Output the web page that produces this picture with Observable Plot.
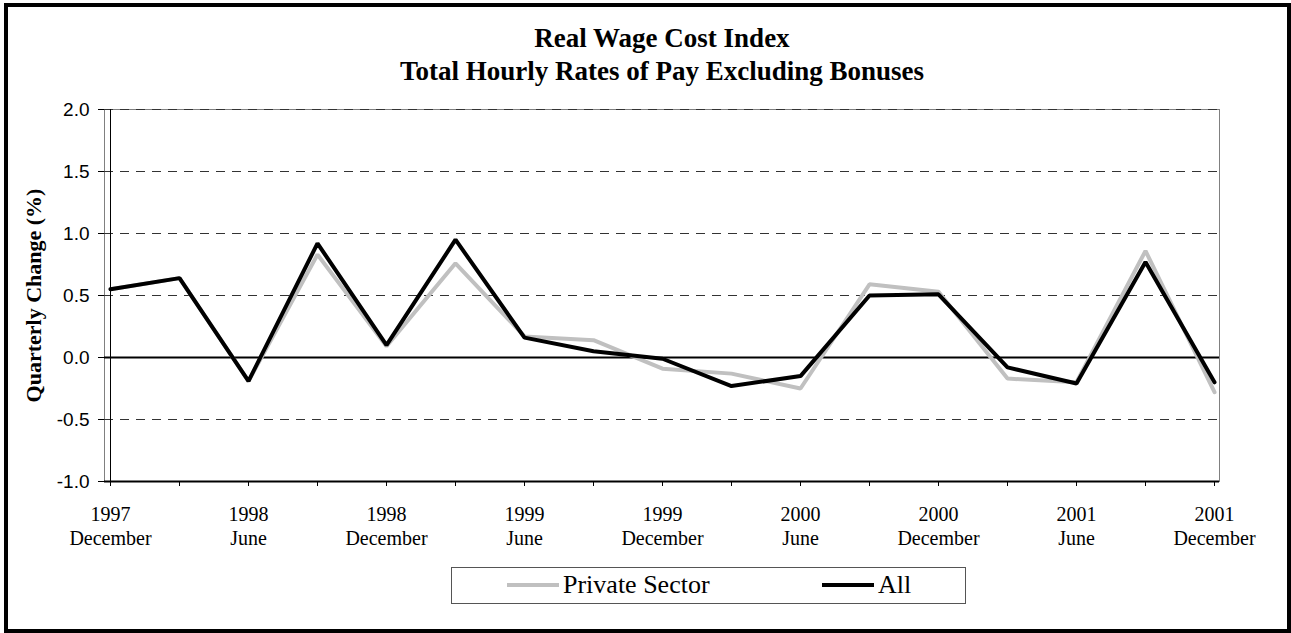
<!DOCTYPE html>
<html>
<head>
<meta charset="utf-8">
<script src="https://cdn.jsdelivr.net/npm/d3@7"></script>
<script src="https://cdn.jsdelivr.net/npm/@observablehq/plot@0.6"></script>
<style>
  body { margin: 0; background: #fff; }
  #page { position: relative; width: 1291px; height: 633px; overflow: hidden; font-family: "Liberation Serif", "Times New Roman", serif; color: #000; }
  #border { position: absolute; left: 4px; top: 3px; width: 1287px; height: 630px; box-sizing: border-box; border: 4px solid #000; pointer-events: none; }
  .title { position: absolute; left: 0; width: 1324px; text-align: center; font-weight: bold; font-size: 27px; line-height: 27px; white-space: nowrap; }
  #chart { position: absolute; left: 0; top: 95px; }
  #legend { position: absolute; left: 451px; top: 567px; width: 515px; height: 37px; box-sizing: border-box; border: 1.5px solid #555; }
  .sw { position: absolute; height: 4px; top: 583px; }
  .lt { position: absolute; top: 572px; font-size: 26px; line-height: 26px; white-space: nowrap; }
</style>
</head>
<body>
<div id="page">
  <div class="title" style="top:25px">Real Wage Cost Index</div>
  <div class="title" style="top:58px">Total Hourly Rates of Pay Excluding Bonuses</div>
  <div id="chart"></div>
  <div id="legend"></div>
  <div class="sw" style="left:507px;width:52px;background:#c0c0c0"></div>
  <div class="lt" style="left:563px">Private Sector</div>
  <div class="sw" style="left:822px;width:52px;background:#000"></div>
  <div class="lt" style="left:878px">All</div>
  <div id="border"></div>
</div>
<script>
// Quarter categories
const quarterYears  = ["1997","1998","1998","1998","1998","1999","1999","1999","1999","2000","2000","2000","2000","2001","2001","2001","2001"];
const quarterMonths = ["December","March","June","September","December","March","June","September","December","March","June","September","December","March","June","September","December"];
// Series values (quarterly change, %)
const privateValues = [0.55, 0.64, -0.19, 0.83, 0.09, 0.76, 0.17, 0.14, -0.09, -0.13, -0.25, 0.59, 0.53, -0.17, -0.20, 0.86, -0.28];
const allValues     = [0.55, 0.64, -0.19, 0.92, 0.10, 0.95, 0.16, 0.05, -0.01, -0.23, -0.15, 0.50, 0.51, -0.08, -0.21, 0.77, -0.20];
// Axis ticks
const yTicks = [-1.0, -0.5, 0.0, 0.5, 1.0, 1.5, 2.0];
const gridValues = [-0.5, 0.5, 1.0, 1.5, 2.0];
const yLabel = "Quarterly Change (%)";

const quarterKeys = quarterYears.map((y, i) => `${y}\n${quarterMonths[i]}`);
const labelKeys = quarterKeys.filter((d, i) => i % 2 === 0);
const privateData = quarterKeys.map((q, i) => ({quarter: q, value: privateValues[i]}));
const allData = quarterKeys.map((q, i) => ({quarter: q, value: allValues[i]}));

const chart = Plot.plot({
  width: 1291,
  height: 460,
  marginTop: 14,
  marginBottom: 74,
  marginLeft: 104,
  marginRight: 72,
  style: {fontFamily: "'Liberation Serif', 'Times New Roman', serif", background: "transparent", color: "#000", overflow: "visible"},
  x: {type: "point", domain: quarterKeys, padding: 0, axis: null, label: null},
  y: {domain: [-1, 2], axis: null, label: null},
  marks: [
    Plot.frame({stroke: "#808080"}),
    Plot.ruleY(gridValues, {stroke: "#333", strokeDasharray: "9,7", strokeWidth: 1}),
    Plot.ruleY([0], {stroke: "#000", strokeWidth: 2}),
    Plot.line(privateData, {x: "quarter", y: "value", stroke: "#c0c0c0", strokeWidth: 4, strokeLinejoin: "miter"}),
    Plot.line(allData, {x: "quarter", y: "value", stroke: "#000", strokeWidth: 4, strokeLinejoin: "miter"}),
    Plot.ruleY([-1], {stroke: "#000", strokeWidth: 2}),
    Plot.ruleX([quarterKeys[0]], {y1: -1, y2: 2, stroke: "#000", strokeWidth: 1}),
    Plot.axisY(yTicks, {label: null, tickSize: 6, tickPadding: 9, tickFormat: d => d.toFixed(1), fontSize: 19, fontFamily: "'Liberation Sans', Arial, sans-serif", fill: "#000", stroke: "#000"}),
    Plot.axisX(quarterKeys, {label: null, tickSize: 5, tickFormat: () => "", stroke: "#000"}),
    Plot.axisX(labelKeys, {label: null, tickSize: 0, tickPadding: 22, fontSize: 20, lineHeight: 1.2, fill: "#000"}),
    Plot.text([yLabel], {frameAnchor: "left", dx: -71, rotate: -90, textAnchor: "middle", fontSize: 22, fontWeight: "bold", fill: "#000"})
  ]
});
document.getElementById("chart").appendChild(chart);
</script>
</body>
</html>
